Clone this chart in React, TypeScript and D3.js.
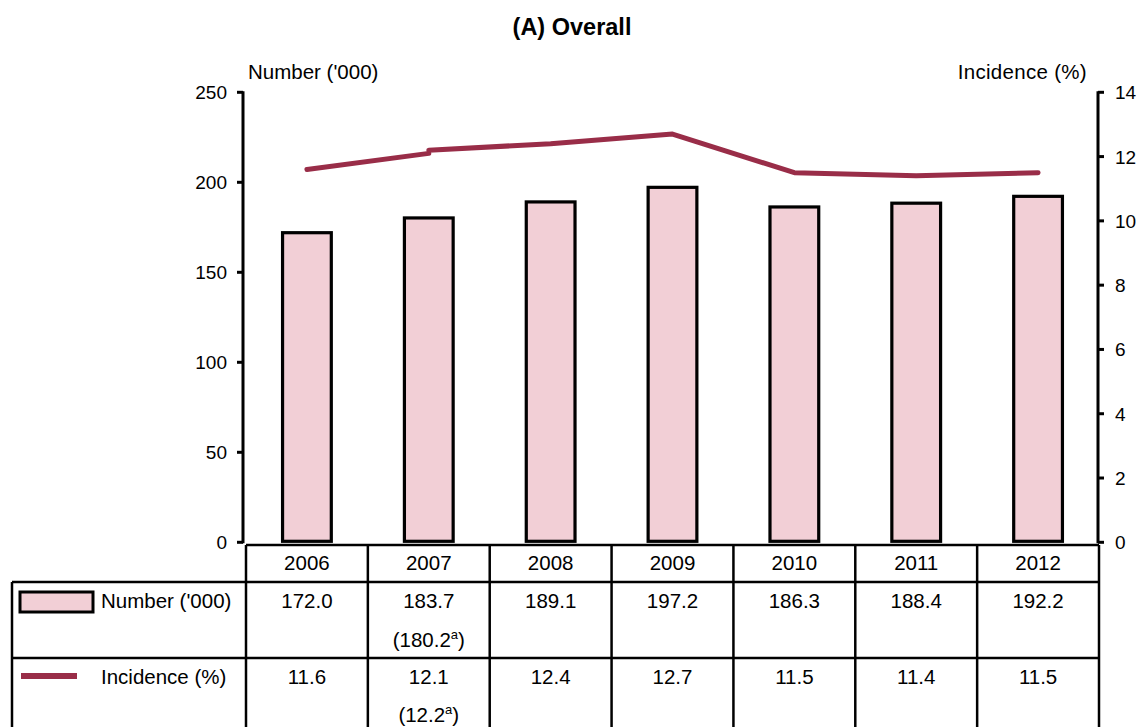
import React from "react";
import * as d3 from "d3";

const years = ["2006", "2007", "2008", "2009", "2010", "2011", "2012"];
const numbers = [172.0, 183.7, 189.1, 197.2, 186.3, 188.4, 192.2];
const numbersRevised: (number | null)[] = [null, 180.2, null, null, null, null, null];
const incidence = [11.6, 12.1, 12.4, 12.7, 11.5, 11.4, 11.5];
const incidenceRevised: (number | null)[] = [null, 12.2, null, null, null, null, null];
const leftTicks = [0, 50, 100, 150, 200, 250];
const rightTicks = [0, 2, 4, 6, 8, 10, 12, 14];

const W = 1142;
const H = 727;
const FONT = "'Liberation Sans', Arial, Helvetica, sans-serif";
const BAR_FILL = "#f2cfd6";
const LINE_COLOR = "#992d48";

export default function App() {
  const x = d3.scaleBand<string>().domain(years).range([246, 1099]).paddingInner(0).paddingOuter(0);
  const yL = d3.scaleLinear().domain([0, 250]).range([542.3, 92.3]);
  const yR = d3.scaleLinear().domain([0, 14]).range([542.3, 92.3]);
  const cx = (d: string) => (x(d) as number) + x.bandwidth() / 2;
  const barW = x.bandwidth() * 0.4;

  const barVals = numbers.map((v, i) => (numbersRevised[i] != null ? (numbersRevised[i] as number) : v));

  const line = d3
    .line<[string, number]>()
    .x((d) => cx(d[0]))
    .y((d) => yR(d[1]));

  const seg1: [string, number][] = [
    [years[0], incidence[0]],
    [years[1], incidence[1]],
  ];
  const seg2: [string, number][] = years.slice(1).map((yr, j) => {
    const i = j + 1;
    const v = incidenceRevised[i] != null ? (incidenceRevised[i] as number) : incidence[i];
    return [yr, v];
  });

  const axisL = 243;
  const axisR = 1098;
  const tableTop = 545;
  const row1 = 582;
  const row2 = 658;
  const tableLeft = 12;
  const tableRight = 1099;
  const fs = 20.5;
  const tfs = 19;

  const colEdges = years.map((d) => x(d) as number).concat([x.range()[1]]);

  return (
    <svg
      width={W}
      height={H}
      style={{ position: "absolute", left: 0, top: 0, background: "#fff" }}
      fontFamily={FONT}
    >
      <rect x={0} y={0} width={W} height={H} fill="#fff" />
      {/* Title */}
      <text x={572} y={35} textAnchor="middle" fontSize={23.5} fontWeight="bold" fill="#000">
        (A) Overall
      </text>
      {/* Axis titles */}
      <text x={248} y={79} fontSize={fs} fill="#000">
        Number ('000)
      </text>
      <text x={1087} y={79} fontSize={fs} textAnchor="end" letterSpacing={0.3} fill="#000">
        Incidence (%)
      </text>

      {/* Bars */}
      {years.map((yr, i) => (
        <rect
          key={yr}
          x={cx(yr) - barW / 2}
          y={yL(barVals[i])}
          width={barW}
          height={yL(0) - yL(barVals[i]) - 1}
          fill={BAR_FILL}
          stroke="#000"
          strokeWidth={3.2}
        />
      ))}

      {/* Line */}
      <path d={line(seg1) || ""} fill="none" stroke={LINE_COLOR} strokeWidth={5} strokeLinecap="round" strokeLinejoin="round" />
      <path d={line(seg2) || ""} fill="none" stroke={LINE_COLOR} strokeWidth={5} strokeLinecap="round" strokeLinejoin="round" />

      {/* Left axis */}
      <line x1={axisL} x2={axisL} y1={yL(250) - 1} y2={yL(0) + 1} stroke="#000" strokeWidth={3} />
      {leftTicks.map((t) => (
        <g key={"l" + t}>
          <line x1={axisL - 6} x2={axisL} y1={yL(t)} y2={yL(t)} stroke="#000" strokeWidth={3} />
          <text x={227} y={yL(t) + 7} textAnchor="end" fontSize={tfs} fill="#000">
            {t}
          </text>
        </g>
      ))}

      {/* Right axis */}
      <line x1={axisR} x2={axisR} y1={yR(14) - 1} y2={yR(0) + 1} stroke="#000" strokeWidth={3} />
      {rightTicks.map((t) => (
        <g key={"r" + t}>
          <line x1={axisR} x2={axisR + 6} y1={yR(t)} y2={yR(t)} stroke="#000" strokeWidth={3} />
          <text x={1115} y={yR(t) + 7} textAnchor="start" fontSize={tfs} fill="#000">
            {t}
          </text>
        </g>
      ))}

      {/* Table lines */}
      <g stroke="#000" strokeWidth={2.5}>
        <line x1={colEdges[0]} x2={tableRight} y1={tableTop} y2={tableTop} />
        <line x1={tableLeft} x2={tableRight} y1={row1} y2={row1} />
        <line x1={tableLeft} x2={tableRight} y1={row2} y2={row2} />
        <line x1={tableLeft} x2={tableLeft} y1={row1} y2={H + 5} />
        {colEdges.map((e, i) => (
          <line key={"c" + i} x1={e} x2={e} y1={tableTop} y2={H + 5} />
        ))}
      </g>

      {/* Year headers */}
      {years.map((yr) => (
        <text key={"y" + yr} x={cx(yr)} y={570} textAnchor="middle" fontSize={fs} fill="#000">
          {yr}
        </text>
      ))}

      {/* Number row */}
      {years.map((yr, i) => (
        <g key={"n" + yr}>
          <text x={cx(yr)} y={608} textAnchor="middle" fontSize={fs} fill="#000">
            {numbers[i].toFixed(1)}
          </text>
          {numbersRevised[i] != null && (
            <text x={cx(yr)} y={647} textAnchor="middle" fontSize={fs} fill="#000">
              ({(numbersRevised[i] as number).toFixed(1)}
              <tspan fontSize={13} dy={-8}>a</tspan>
              <tspan dy={8}>)</tspan>
            </text>
          )}
        </g>
      ))}

      {/* Incidence row */}
      {years.map((yr, i) => (
        <g key={"i" + yr}>
          <text x={cx(yr)} y={684} textAnchor="middle" fontSize={fs} fill="#000">
            {incidence[i].toFixed(1)}
          </text>
          {incidenceRevised[i] != null && (
            <text x={cx(yr)} y={722} textAnchor="middle" fontSize={fs} fill="#000">
              ({(incidenceRevised[i] as number).toFixed(1)}
              <tspan fontSize={13} dy={-8}>a</tspan>
              <tspan dy={8}>)</tspan>
            </text>
          )}
        </g>
      ))}

      {/* Legend cells */}
      <rect x={20} y={592} width={73} height={20} fill={BAR_FILL} stroke="#000" strokeWidth={3} />
      <text x={101} y={608} fontSize={fs} fill="#000">
        Number ('000)
      </text>
      <line x1={21} x2={77} y1={676} y2={676} stroke={LINE_COLOR} strokeWidth={6} />
      <text x={101} y={684} fontSize={fs} fill="#000">
        Incidence (%)
      </text>
    </svg>
  );
}
